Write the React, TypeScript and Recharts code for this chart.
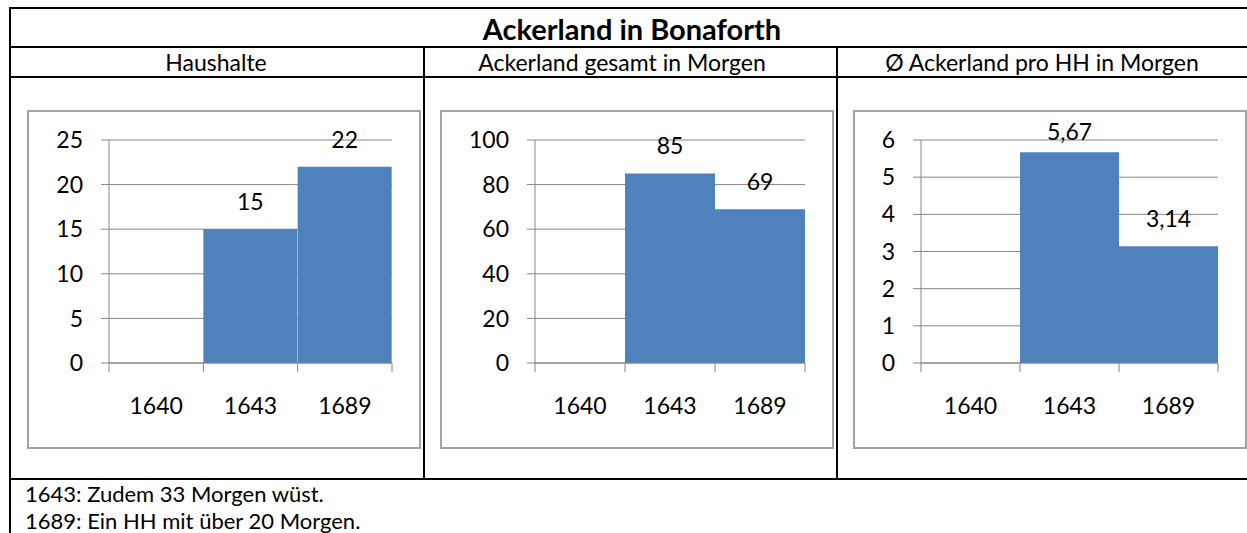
import { Bar, BarChart, CartesianGrid, LabelList, XAxis, YAxis } from "recharts";

const years = ["1640", "1643", "1689"];
const haushalte = [null, 15, 22];
const ackerlandGesamt = [null, 85, 69];
const ackerlandProHH = [null, 5.67, 3.14];

const haushalteTicks = [0, 5, 10, 15, 20, 25];
const gesamtTicks = [0, 20, 40, 60, 80, 100];
const proHHTicks = [0, 1, 2, 3, 4, 5, 6];

const title = "Ackerland in Bonaforth";
const headers = ["Haushalte", "Ackerland gesamt in Morgen", "Ø Ackerland pro HH in Morgen"];
const notes = ["1643: Zudem 33 Morgen wüst.", "1689: Ein HH mit über 20 Morgen."];

const FONT = "Lato, 'Liberation Sans', sans-serif";
const BAR = "#4f81bd";
const GRID = "#868686";
const TICK_FONT = 23;

function YearTick(props: any) {
  const { x, y, payload, index } = props;
  const half = payload?.offset ?? 45;
  const axisY = y - 8;
  return (
    <g>
      <line x1={x - half} x2={x - half} y1={axisY} y2={axisY + 9} stroke={GRID} />
      {index === years.length - 1 && <line x1={x + half} x2={x + half} y1={axisY} y2={axisY + 9} stroke={GRID} />}
      <text x={x} y={axisY + 51} textAnchor="middle" fontSize={TICK_FONT} fill="#000">
        {payload.value}
      </text>
    </g>
  );
}

function ValueLabel(props: any) {
  const { x, y, width, value } = props;
  if (value == null) return null;
  return (
    <text
      x={Number(x) + Number(width) / 2}
      y={Math.max(Number(y) - 19, 30)}
      textAnchor="middle"
      fontSize={TICK_FONT}
      fill="#000"
    >
      {String(value).replace(".", ",")}
    </text>
  );
}

function Panel({ left, values, ticks, axisWidth }: { left: number; values: (number | null)[]; ticks: number[]; axisWidth: number }) {
  const data = years.map((year, i) => ({ year, value: values[i] }));
  return (
    <>
      <div
        style={{
          position: "absolute",
          left,
          top: 110,
          width: 394,
          height: 339,
          boxSizing: "border-box",
          border: "2px solid #a3a3a3",
        }}
      />
      <div style={{ position: "absolute", left, top: 110 }}>
        <BarChart width={394} height={339} data={data} margin={{ top: 30, right: 29, bottom: 0, left: 0 }} barCategoryGap={0}>
          <CartesianGrid vertical={false} stroke={GRID} />
          <XAxis
            dataKey="year"
            height={86}
            interval={0}
            axisLine={{ stroke: GRID }}
            tickLine={false}
            tickSize={8}
            tickMargin={0}
            tick={(p: any) => <YearTick {...p} />}
          />
          <YAxis
            width={axisWidth}
            domain={[ticks[0], ticks[ticks.length - 1]]}
            ticks={ticks}
            interval={0}
            axisLine={{ stroke: GRID }}
            tickLine={{ stroke: GRID }}
            tickSize={8}
            tickMargin={18}
            tick={{ fill: "#000", fontSize: TICK_FONT }}
          />
          <Bar dataKey="value" fill={BAR} isAnimationActive={false}>
            <LabelList dataKey="value" content={ValueLabel} />
          </Bar>
        </BarChart>
      </div>
    </>
  );
}

const line = (left: number, top: number, width: number, height: number) => (
  <div style={{ position: "absolute", left, top, width, height, background: "#000" }} />
);

export default function App() {
  return (
    <div style={{ position: "absolute", left: 0, top: 0, width: 1247, height: 533, overflow: "hidden", background: "#fff", fontFamily: FONT, color: "#000" }}>
      {line(9, 7, 1238, 2)}
      {line(9, 7, 2, 526)}
      {line(9, 46, 1238, 2)}
      {line(9, 76, 1238, 2)}
      {line(9, 478, 1238, 2)}
      {line(423, 46, 2, 434)}
      {line(836, 46, 2, 434)}

      <div style={{ position: "absolute", left: 232, top: 10, width: 800, height: 37, lineHeight: "37px", textAlign: "center", fontWeight: 700, fontSize: 29 }}>
        {title}
      </div>
      {headers.map((h, i) => (
        <div
          key={h}
          style={{ position: "absolute", left: [216, 622, 1042][i] - 200, top: 48, width: 400, height: 28, lineHeight: "28px", textAlign: "center", fontSize: 23, whiteSpace: "nowrap" }}
        >
          {h}
        </div>
      ))}

      <Panel left={27} values={haushalte} ticks={haushalteTicks} axisWidth={82} />
      <Panel left={440} values={ackerlandGesamt} ticks={gesamtTicks} axisWidth={95} />
      <Panel left={853} values={ackerlandProHH} ticks={proHHTicks} axisWidth={68} />

      {notes.map((n, i) => (
        <div key={n} style={{ position: "absolute", left: 25, top: 480 + i * 27, height: 27, lineHeight: "27px", fontSize: 22, whiteSpace: "nowrap" }}>
          {n}
        </div>
      ))}
    </div>
  );
}
